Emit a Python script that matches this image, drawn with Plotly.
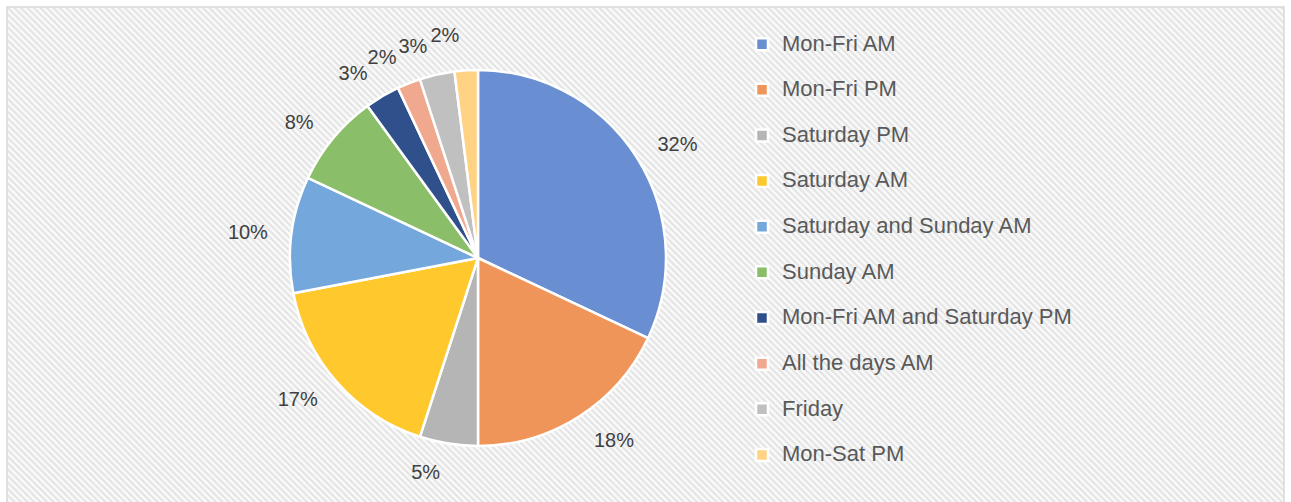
import base64
import plotly.graph_objects as go

categories = ["Mon-Fri AM", "Mon-Fri PM", "Saturday PM", "Saturday AM",
              "Saturday and Sunday AM", "Sunday AM", "Mon-Fri AM and Saturday PM",
              "All the days AM", "Friday", "Mon-Sat PM"]
values = [32, 18, 5, 17, 10, 8, 3, 2, 3, 2]
colors = ["#6A8ED2", "#F0955A", "#B5B5B5", "#FFC92E", "#74A7DB",
          "#8ABE68", "#30508C", "#F0A88E", "#C0C0C0", "#FFD284"]

W, H = 1291, 502
CX, CY, R, RL = 478, 258, 188, 206  # pie centre / radius, label-ring radius (px)

svg = f'''<svg xmlns="http://www.w3.org/2000/svg" width="{W}" height="{H}" viewBox="0 0 {W} {H}">
<defs><pattern id="p" patternUnits="userSpaceOnUse" width="6.5" height="6.5">
<rect width="6.5" height="6.5" fill="#FBFBFB"/>
<path d="M-1,-1 L7.5,7.5 M-4.25,2.25 L2.25,8.75 M2.25,-4.25 L8.75,2.25" stroke="#E4E4E4" stroke-width="2.2"/>
</pattern></defs>
<rect x="0" y="0" width="{W}" height="{H}" fill="#FFFFFF"/>
<rect x="7" y="7" width="{W-14}" height="{H}" fill="url(#p)"/>
</svg>'''
src = "data:image/svg+xml;base64," + base64.b64encode(svg.encode()).decode()

# two-line legend entries give the wide row spacing; the last row needs no spacer
legend_labels = ["<span style='font-size:22px'>" + c + "</span>" + ("<br> " if i < len(categories) - 1 else "")
                 for i, c in enumerate(categories)]

# visible pie (no text)
pie = go.Pie(
    labels=legend_labels,
    values=values,
    sort=False,
    direction="clockwise",
    rotation=0,
    marker=dict(colors=colors, line=dict(color="white", width=2.5)),
    textinfo="none",
    domain=dict(x=[(CX - R) / W, (CX + R) / W],
                y=[1 - (CY + R) / H, 1 - (CY - R) / H]),
    hoverinfo="value",
)


# transparent, slightly larger pies carrying the percentage labels
# (split in two so plotly does not stack the tiny top slices' labels)
def label_pie(show):
    return go.Pie(
        labels=legend_labels,
        values=values,
        sort=False,
        direction="clockwise",
        rotation=0,
        marker=dict(colors=["rgba(0,0,0,0)"] * len(values), line=dict(width=0)),
        texttemplate="%{value}%",
        textposition=["outside" if s else "none" for s in show],
        outsidetextfont=dict(family="Liberation Sans", size=20, color="#404040"),
        domain=dict(x=[(CX - RL) / W, (CX + RL) / W],
                    y=[1 - (CY + RL) / H, 1 - (CY - RL) / H]),
        showlegend=False,
        hoverinfo="skip",
    )


group_b = [False, False, False, False, False, False, False, True, False, True]
fig = go.Figure([label_pie([not g for g in group_b]), label_pie(group_b), pie])

fig.update_layout(
    width=W, height=H,
    margin=dict(l=0, r=0, t=0, b=0, autoexpand=False),
    paper_bgcolor="rgba(0,0,0,0)",
    plot_bgcolor="rgba(0,0,0,0)",
    showlegend=True,
    legend=dict(
        x=742 / W, y=1 - 27 / H, xanchor="left", yanchor="top",
        font=dict(family="Liberation Sans", size=16.4, color="#595959"),
        bgcolor="rgba(0,0,0,0)",
        valign="top",
        itemwidth=30,
    ),
    images=[dict(source=src, xref="paper", yref="paper", x=0, y=1,
                 sizex=1, sizey=1, xanchor="left", yanchor="top",
                 sizing="stretch", layer="below")],
    shapes=[dict(type="rect", xref="paper", yref="paper",
                 x0=7 / W, x1=(W - 7) / W, y0=-0.02, y1=1 - 7 / H,
                 line=dict(color="#D9D9D9", width=1.5), fillcolor="rgba(0,0,0,0)")],
)

post = """
document.body.style.margin='0';
var st=document.createElement('style');
st.textContent='path.textline{display:none;}';
document.head.appendChild(st);
"""
fig.write_html("out.html", post_script=post, config={"displayModeBar": False})
